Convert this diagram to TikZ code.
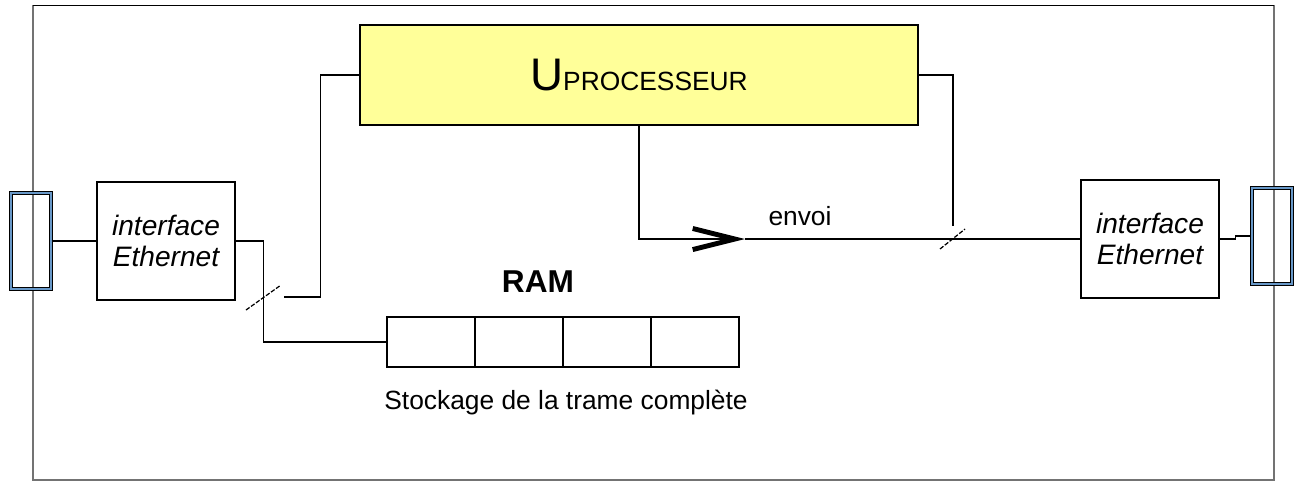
\documentclass[tikz,border=0pt]{standalone}
\usepackage{fontspec}
\setmainfont{Liberation Sans}
\usetikzlibrary{arrows.meta}
\definecolor{cpuyellow}{RGB}{255,255,153}
\definecolor{plugblue}{RGB}{104,152,200}
\tikzset{
	plug/.style={draw=black,double=plugblue,line width=0.6pt,double distance=1.5pt,minimum width=0.8cm,minimum height=1.92cm,inner sep=0},
	iface/.style={draw,line width=0.7pt,minimum width=2.76cm,minimum height=2.36cm,align=center,font=\fontsize{16}{17.5}\selectfont\itshape},
	cell/.style={draw,line width=0.7pt,minimum width=1.76cm,minimum height=1cm,inner sep=0},
	wire/.style={line width=0.7pt},
	buscut/.style={line width=0.7pt,dash pattern=on 2.5pt off 1pt},
	txt/.style={font=\fontsize{15}{18}\selectfont}
}
\begin{document}
\begin{tikzpicture}[x=0.02cm,y=-0.02cm]
	\useasboundingbox (0,0) rectangle (1296,481);
	\draw[line width=1.1pt,black!55] (33,5.5) rectangle (1274,480);
	\draw[line width=1pt] (33,5.5) -- (1274,5.5);
	\node[plug] (plugL) at (31,241) {};
	\node[plug] (plugR) at (1272,236) {};
	\node[iface] (ifaceL) at (166,241) {interface\\Ethernet};
	\node[iface] (ifaceR) at (1150,239) {interface\\Ethernet};
	\node[draw,fill=cpuyellow,line width=0.7pt,minimum width=11.16cm,minimum height=2cm] (cpu) at (639,75) {{\fontsize{26}{28}\selectfont U}{\fontsize{15}{18}\selectfont PROCESSEUR}};
	\foreach \i in {1,...,4}
		\node[cell] (ram\i) at ({343+88*\i},342) {};
	\node[font=\fontsize{18}{20}\selectfont\bfseries] (ramtitle) at (538,282) {RAM};
	\node[txt] (stockage) at (566,403) {Stockage de la trame complète};
	\node[txt] (envoi) at (800,216) {envoi};
	\coordinate (tip) at (745,239);
	\coordinate (busL) at (284,297);
	\coordinate (busR) at (953,226);
	\draw[wire] (plugL.east) -- (ifaceL.west);
	\draw[wire] (ifaceL.east) -- ++(28,0) |- (ram1.west);
	\draw[wire] (cpu.west) -- ++(-39,0) |- (busL);
	\draw[wire] (cpu.east) -| (busR);
	\draw[wire,-{Straight Barb[length=24pt,width=12pt,line width=2.8pt]}] (cpu.south) |- (tip);
	\draw[wire] (tip) -- (ifaceR.west);
	\draw[wire] (ifaceR.east) -- ++(16,0) |- (plugR.west);
	\draw[buscut] (246,310) -- (281,285);
	\draw[buscut] (940,249) -- (965,229);
\end{tikzpicture}
\end{document}
